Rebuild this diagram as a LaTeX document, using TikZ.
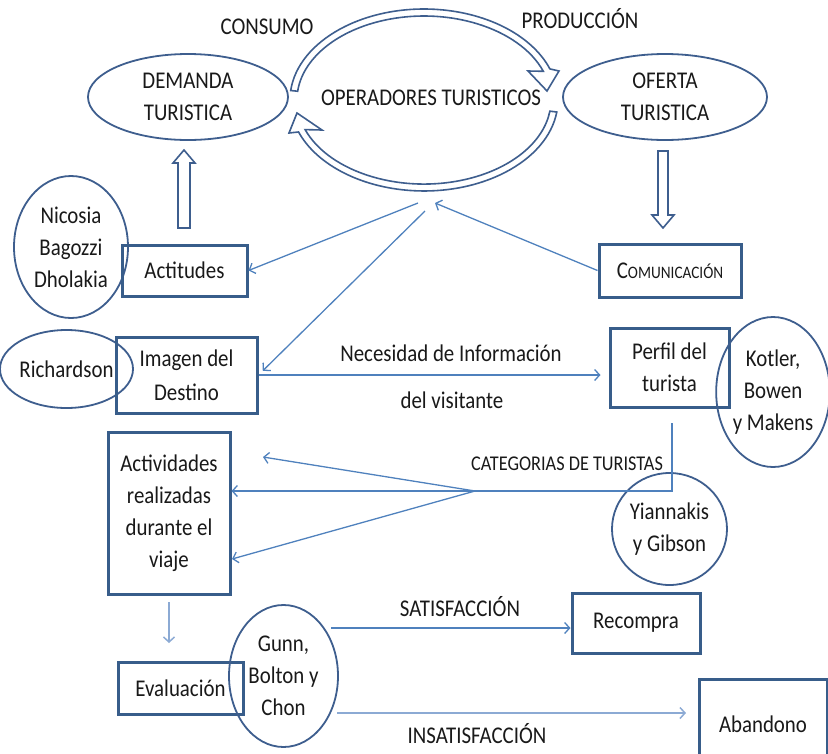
\documentclass[tikz,border=0pt]{standalone}
\usepackage{fontspec}
\setmainfont[FakeStretch=0.87]{Carlito}
\usetikzlibrary{arrows.meta,shapes.geometric}
\definecolor{boxblue}{RGB}{56,93,138}
\definecolor{ellblue}{RGB}{62,94,142}
\definecolor{lineblue}{RGB}{79,129,189}
\definecolor{lightblue}{RGB}{140,170,212}
\definecolor{txt}{RGB}{25,25,25}
\tikzset{
  bx/.style={draw=boxblue, line width=3pt, inner sep=0pt, align=center, text=txt},
  el/.style={draw=ellblue, line width=1.8pt, ellipse, inner sep=0pt, align=center, text=txt},
  lbl/.style={inner sep=0pt, align=center, text=txt},
  conn/.style={draw=lineblue, line width=1.3pt, -{Straight Barb[length=5pt,width=11pt,line width=1.3pt]}},
  lconn/.style={draw=lightblue, line width=2pt, -{Straight Barb[length=5pt,width=11pt,line width=1.5pt]}},
  plain/.style={draw=lineblue, line width=1.3pt},
  blk/.style={draw=ellblue, line width=1.6pt, fill=white, line join=miter},
  mainfont/.style={font=\fontsize{24}{32}\selectfont},
  smallfont/.style={font=\fontsize{21}{26}\selectfont}
}
\begin{document}
\begin{tikzpicture}[x=1pt,y=-1pt,every node/.style={mainfont}]
\useasboundingbox (0,0) rectangle (828,753);
\clip (0,0) rectangle (828,753);

% top ellipses
\node[el, minimum width=200, minimum height=86] (dem) at (188,97) {DEMANDA\\TURISTICA};
\node[el, minimum width=204, minimum height=86] (ofe) at (665,97) {OFERTA\\TURISTICA};
\node[lbl] (ope) at (431,98) {OPERADORES TURISTICOS};
\node[lbl] (cons) at (267,27) {CONSUMO};
\node[lbl] (prod) at (580,19) {PRODUCCIÓN};

% cycle arrows
\draw[blk] (290.7,90.5) arc[start angle=186, end angle=340, x radius=134, y radius=91]
  -- (559,71) -- (547,91) -- (528,71) -- (543.3,71.3)
  arc[start angle=340, end angle=186, x radius=127, y radius=84] -- cycle;
\draw[blk] (556.8,112) arc[start angle=7.6, end angle=159.4, x radius=134, y radius=91]
  -- (289,133) -- (297,113) -- (322,130) -- (305.1,129.6)
  arc[start angle=159.4, end angle=7.6, x radius=127, y radius=84] -- cycle;

% block arrows
\draw[blk] (178,228) -- (178,163) -- (173,163) -- (184,150) -- (195,163) -- (190,163) -- (190,228) -- cycle;
\draw[blk] (658,151) -- (668,151) -- (668,215) -- (674,215) -- (663,228) -- (652,215) -- (658,215) -- cycle;

% second row
\node[el, minimum width=114, minimum height=142] (nic) at (71,247) {Nicosia\\Bagozzi\\Dholakia};
\node[bx, minimum width=125, minimum height=51] (act) at (184.5,270.5) {Actitudes};
\node[bx, minimum width=142, minimum height=53] (com) at (670,270.5) {C{\fontsize{17.5}{20}\selectfont OMUNICACIÓN}};

% third row
\node[el, minimum width=113, minimum height=78] (ric) at (66.5,369) {Richardson};
\node[bx, minimum width=141, minimum height=76] (ima) at (186.5,375) {Imagen del\\[2pt]Destino};
\node[bx, minimum width=119, minimum height=79] (per) at (669.5,367.5) {Perfil del\\turista};
\node[el, minimum width=106, minimum height=150] (kot) at (773,392) {Kotler,\\Bowen\\y Makens};
\node[lbl] (nec) at (451,353) {Necesidad de Información};
\node[lbl] (vis) at (452,400) {del visitante};

% operators connectors
\coordinate (o1) at (418,203);
\coordinate (o2) at (425,211);
\coordinate (o3) at (435,203);
\draw[conn] (o1) -- (act.east);
\draw[conn, shorten >=6pt] (o2) -- (ima.east);
\draw[conn] (com.west) -- (o3);
\draw[conn, shorten >=8pt] (ima.east) -- (ima.east -| per.west);

% categories
\node[lbl, smallfont] (cat) at (567,464) {CATEGORIAS DE TURISTAS};
\node[bx, minimum width=122, minimum height=162] (acv) at (169,513) {Actividades\\realizadas\\durante el\\viaje};
\node[el, minimum width=115, minimum height=112] (yia) at (669.5,529) {Yiannakis\\y Gibson};
\coordinate (pb) at (672,423);
\coordinate (cp) at (475,491);
\coordinate (a1) at (263,457);
\coordinate (a3) at (232,559);
\draw[plain] (pb) |- (cp);
\draw[conn] (cp) -- (a1);
\draw[conn] (cp) -- (acv.east |- cp);
\draw[conn] (cp) -- (a3);

% bottom
\node[bx, minimum width=125, minimum height=52] (eva) at (180.5,688) {Evaluación};
\node[el, minimum width=109, minimum height=142] (gun) at (283.5,676) {Gunn,\\Bolton y\\Chon};
\node[bx, minimum width=128, minimum height=60] (rec) at (636,623) {Recompra};
\node[bx, minimum width=128, minimum height=91] (aba) at (763,724.5) {Abandono};
\node[lbl] (sat) at (460,607) {SATISFACCIÓN};
\node[lbl] (ins) at (477,734) {INSATISFACCIÓN};

\coordinate (d1) at (169,602);
\coordinate (d2) at (169,643);
\draw[lconn] (d1) -- (d2);
\coordinate (s1) at (331,628);
\draw[conn] (s1) -- (rec.west |- s1);
\coordinate (i1) at (337,713);
\coordinate (i2) at (686,713);
\draw[lconn] (i1) -- (i2);
\end{tikzpicture}
\end{document}
